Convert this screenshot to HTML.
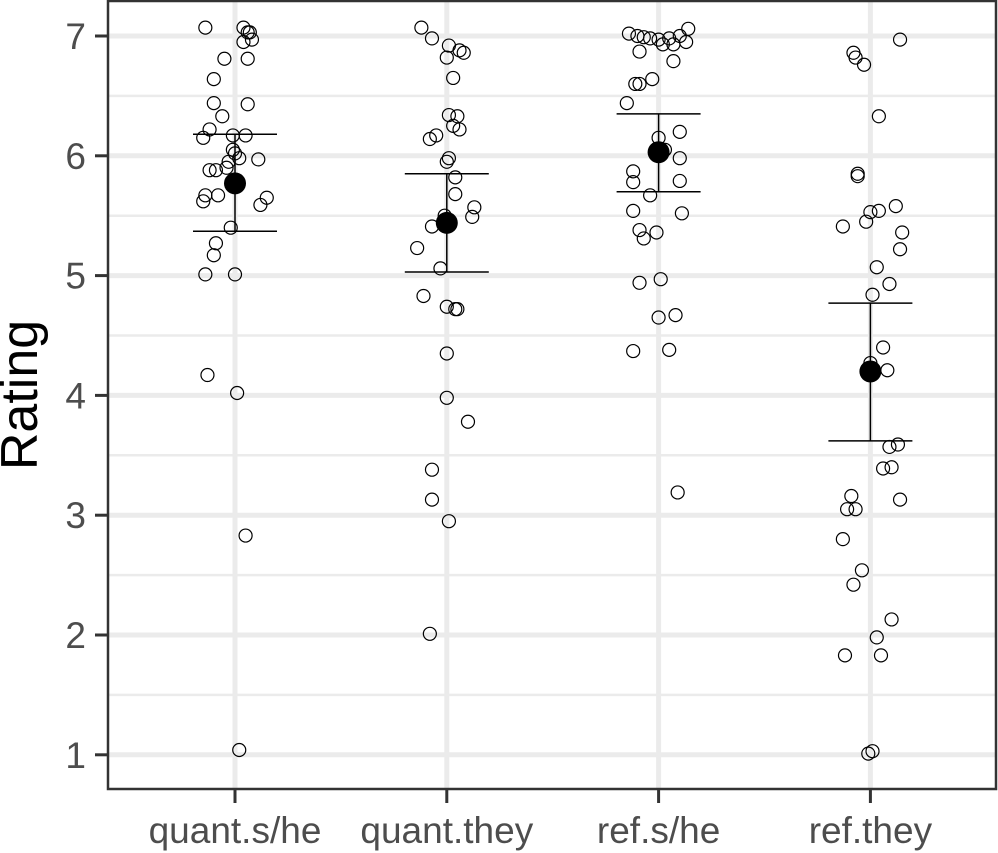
<!DOCTYPE html>
<html><head><meta charset="utf-8"><style>
html,body{margin:0;padding:0;background:#fff;width:998px;height:853px;overflow:hidden}
text{font-family:"Liberation Sans",Arial,sans-serif}
</style></head><body>
<svg id="chart" width="998" height="853" xmlns="http://www.w3.org/2000/svg"></svg>
<script>
const categories=["quant.s/he","quant.they","ref.s/he","ref.they"];
const yTicks=[1,2,3,4,5,6,7];
const means=[5.77,5.44,6.03,4.20];
const ciLow=[5.37,5.03,5.70,3.62];
const ciHigh=[6.18,5.85,6.35,4.77];
// points: [jitter offset (category units), rating]
const pts0=[[-0.14,7.07],[0.04,7.07],[0.06,7.03],[0.07,7.03],[0.04,6.95],[0.08,6.97],[-0.05,6.81],[0.06,6.81],[-0.10,6.64],[-0.10,6.44],[0.06,6.43],[-0.06,6.33],[-0.15,6.15],[-0.12,6.22],[-0.01,6.17],[0.05,6.17],[-0.01,6.05],[0.0,6.02],[0.02,5.98],[-0.03,5.95],[0.11,5.97],[-0.12,5.88],[-0.09,5.88],[-0.04,5.90],[-0.14,5.67],[-0.08,5.67],[-0.15,5.62],[0.15,5.65],[0.12,5.59],[-0.02,5.40],[-0.09,5.27],[-0.10,5.17],[-0.14,5.01],[0.0,5.01],[-0.13,4.17],[0.01,4.02],[0.05,2.83],[0.02,1.04]];
const pts1=[[-0.12,7.07],[-0.07,6.98],[0.01,6.92],[0.06,6.88],[0.08,6.86],[0.0,6.82],[0.03,6.65],[0.01,6.34],[0.05,6.33],[0.03,6.25],[0.06,6.22],[-0.08,6.14],[-0.05,6.17],[0.01,5.98],[0.0,5.95],[0.04,5.82],[0.04,5.68],[0.13,5.57],[0.12,5.49],[-0.01,5.50],[-0.07,5.41],[-0.14,5.23],[-0.03,5.06],[-0.11,4.83],[0.0,4.74],[0.04,4.72],[0.05,4.72],[0.0,4.35],[0.0,3.98],[0.10,3.78],[-0.07,3.38],[-0.07,3.13],[0.01,2.95],[-0.08,2.01]];
const pts2=[[-0.14,7.02],[-0.10,7.00],[-0.07,6.99],[-0.04,6.98],[0.0,6.97],[0.05,6.98],[0.10,7.00],[0.14,7.06],[0.13,6.95],[0.02,6.93],[-0.09,6.87],[0.07,6.93],[0.07,6.79],[-0.03,6.64],[-0.11,6.60],[-0.09,6.60],[-0.15,6.44],[0.10,6.20],[0.0,6.15],[0.03,6.05],[0.10,5.98],[-0.12,5.87],[-0.12,5.78],[0.10,5.79],[-0.04,5.67],[-0.12,5.54],[0.11,5.52],[-0.09,5.38],[-0.07,5.31],[-0.01,5.36],[-0.09,4.94],[0.01,4.97],[0.0,4.65],[0.08,4.67],[-0.12,4.37],[0.05,4.38],[0.09,3.19]];
const pts3=[[-0.08,6.86],[-0.07,6.82],[-0.03,6.76],[0.14,6.97],[0.04,6.33],[-0.06,5.85],[-0.06,5.83],[0.12,5.58],[0.0,5.53],[0.04,5.54],[-0.13,5.41],[-0.02,5.45],[0.15,5.36],[0.14,5.22],[0.03,5.07],[0.09,4.93],[0.01,4.84],[0.06,4.40],[0.0,4.27],[0.08,4.21],[0.09,3.57],[0.13,3.59],[0.06,3.39],[0.10,3.40],[-0.09,3.16],[-0.11,3.05],[-0.07,3.05],[0.14,3.13],[-0.13,2.80],[-0.04,2.54],[-0.08,2.42],[0.10,2.13],[0.03,1.98],[0.05,1.83],[-0.12,1.83],[-0.01,1.01],[0.01,1.03]];
const points=[pts0,pts1,pts2,pts3];

const NS="http://www.w3.org/2000/svg";
const svg=document.getElementById('chart');
const L=108,R=997,T=0,B=789;
const y=v=>36+(7-v)*119.8;
const x=c=>235+c*211.8;
function mk(tag,attrs,parent){const e=document.createElementNS(NS,tag);for(const k in attrs)e.setAttribute(k,attrs[k]);(parent||svg).appendChild(e);return e;}

const grid=mk('g',{});


for(let v=1.5;v<7;v+=1){const l=mk('line',{x1:L,x2:R,y1:y(v),y2:y(v),stroke:'#ebebeb','stroke-width':2.5},grid);

}
yTicks.forEach(v=>{const l=mk('line',{x1:L,x2:R,y1:y(v),y2:y(v),stroke:'#ebebeb','stroke-width':5},grid);

});
categories.forEach((c,i)=>{const l=mk('line',{x1:x(i),x2:x(i),y1:T,y2:B,stroke:'#ebebeb','stroke-width':5},grid);

});

points.forEach((arr,i)=>{const g=mk('g',{});


arr.forEach(p=>{const c=mk('circle',{cx:x(i+p[0]),cy:y(p[1]),r:6.5,fill:'none',stroke:'#000','stroke-width':1.2},g);

});});

categories.forEach((c,i)=>{const g=mk('g',{});


const cx=x(i);
mk('line',{x1:cx,x2:cx,y1:y(ciLow[i]),y2:y(ciHigh[i]),stroke:'#000','stroke-width':1.5},g);
mk('line',{x1:cx-42,x2:cx+42,y1:y(ciLow[i]),y2:y(ciLow[i]),stroke:'#000','stroke-width':1.5},g);
mk('line',{x1:cx-42,x2:cx+42,y1:y(ciHigh[i]),y2:y(ciHigh[i]),stroke:'#000','stroke-width':1.5},g);
const m=mk('circle',{cx:cx,cy:y(means[i]),r:11,fill:'#000'},g);

});

const frame=mk('rect',{x:L,y:T+1,width:R-L-1,height:B-T-1,fill:'none',stroke:'#333','stroke-width':2.5});



const ya=mk('g',{});


yTicks.forEach(v=>{mk('line',{x1:95,x2:L,y1:y(v),y2:y(v),stroke:'#333','stroke-width':3},ya);
const t=mk('text',{x:86,y:y(v)+13,'text-anchor':'end','font-size':37,fill:'#4d4d4d'},ya);t.textContent=v;

});
const xa=mk('g',{});


categories.forEach((c,i)=>{mk('line',{x1:x(i),x2:x(i),y1:B,y2:803,stroke:'#333','stroke-width':3},xa);
const t=mk('text',{x:x(i),y:843,'text-anchor':'middle','font-size':37,fill:'#4d4d4d'},xa);t.textContent=c;

});
const yt=mk('text',{x:0,y:0,transform:'translate(37,395) rotate(-90)','text-anchor':'middle','font-size':52,fill:'#000'});
yt.textContent='Rating';


</script>
</body></html>
